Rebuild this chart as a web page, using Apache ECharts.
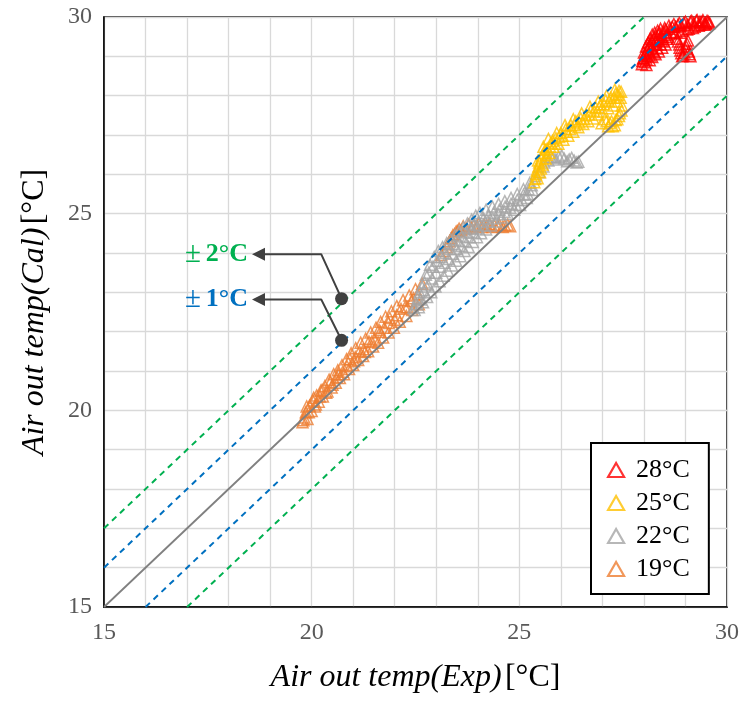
<!DOCTYPE html>
<html>
<head>
<meta charset="utf-8">
<script src="https://cdn.jsdelivr.net/npm/echarts@6/dist/echarts.min.js"></script>
<style>
  html, body { margin: 0; padding: 0; background: #ffffff; }
  #chart { width: 744px; height: 704px; }
</style>
</head>
<body>
<div id="chart"></div>
<script>
// Series names, drawing order and colours
const seriesNames = ['19°C', '22°C', '25°C', '28°C'];
const legendOrder = ['28°C', '25°C', '22°C', '19°C'];
const seriesColors = ['#ED7D31', '#A5A5A5', '#FFC000', '#FF0000'];

// Axis range and labelled ticks
const axisMin = 15;
const axisMax = 30;
const labeledTicks = [15, 20, 25, 30];

// Measured vs calculated air outlet temperature, [Exp, Cal]
const data19 = [
  [19.78,19.70],[19.82,19.82],[19.86,19.95],[19.90,19.78],[19.95,20.12],[20.00,19.98],[20.03,20.25],[20.08,20.10],
  [20.12,20.38],[20.17,20.22],[20.22,20.50],[20.27,20.35],[20.32,20.62],[20.38,20.48],[20.42,20.78],[20.48,20.58],
  [20.53,20.92],[20.58,20.70],[20.63,21.02],[20.68,20.82],[20.73,21.15],[20.78,20.92],[20.84,21.30],[20.90,21.05],
  [20.95,21.45],[21.00,21.15],[21.06,21.58],[21.12,21.28],[21.18,21.72],[21.24,21.38],[21.30,21.82],[21.36,21.50],
  [21.42,21.98],[21.48,21.62],[21.55,22.10],[21.60,21.72],[21.66,22.25],[21.72,21.85],[21.78,22.38],[21.85,21.98],
  [21.92,22.52],[21.98,22.10],[22.05,22.65],[22.12,22.25],[22.20,22.80],[22.28,22.40],[22.35,22.92],[22.42,22.55],
  [22.50,23.08],[22.58,22.70],[22.66,23.22],[23.12,23.95],
  [23.25,24.15],[23.32,24.30],[23.40,24.45],[23.48,24.55],[23.55,24.62],[23.65,24.68],[23.78,24.72],[23.90,24.70],
  [24.02,24.75],[24.15,24.72],[24.28,24.74],[24.40,24.70],[24.52,24.72],[24.65,24.70],[24.78,24.68],
  [19.88,20.10],[20.05,20.32],[20.25,20.52],[20.45,20.72],[20.65,20.92],[20.85,21.12],[21.05,21.35],[21.25,21.55],
  [21.45,21.75],[21.65,22.00],[21.85,22.22],[22.05,22.42],[22.25,22.62],[22.45,22.85],
  [19.80,19.75],[19.93,19.95],[20.10,20.15],[20.20,20.35],[20.35,20.45],[20.50,20.65],[20.60,20.85],[20.75,20.98],
  [20.92,21.30],[21.02,21.25],[21.15,21.50],[21.28,21.48],[21.38,21.75],[21.52,21.80],[21.62,22.05],[21.75,22.10],
  [21.88,22.35],[22.00,22.30],[22.15,22.58],[22.30,22.62],[22.40,22.78],[22.55,22.95],
  [23.20,24.05],[23.28,24.22],[23.36,24.38],[23.44,24.48],[23.52,24.56],
  [23.60,24.58],[23.72,24.62],[23.85,24.65],[23.98,24.68],[24.10,24.66],[24.22,24.70],[24.35,24.66],[24.48,24.68],
  [24.60,24.66],[24.72,24.72]
];

const data22 = [
  [22.45,22.60],[22.55,22.85],[22.65,23.15],[22.75,23.45],[22.85,23.70],[22.95,23.90],[23.05,24.05],[23.15,24.15],
  [23.25,24.25],[23.35,24.35],[23.45,24.45],[23.55,24.55],[23.65,24.65],[23.75,24.75],[23.85,24.85],[23.95,24.95],
  [24.05,25.02],[24.20,25.10],[24.35,25.18],[24.50,25.25],[24.65,25.32],[24.80,25.40],[24.95,25.50],[25.10,25.62],
  [25.25,25.78],[25.38,25.95],
  [22.48,22.55],[22.58,22.62],[22.68,22.75],[22.78,22.88],[22.88,23.00],[22.98,23.15],[23.08,23.28],[23.18,23.42],
  [23.28,23.55],[23.38,23.68],[23.48,23.80],[23.58,23.92],[23.68,24.05],[23.78,24.15],[23.88,24.28],[23.98,24.40],
  [24.08,24.50],[24.20,24.60],[24.32,24.70],[24.45,24.80],[24.58,24.90],[24.72,25.00],[24.88,25.10],[25.02,25.22],
  [25.18,25.40],[25.32,25.60],
  [22.60,23.00],[22.72,23.25],[22.82,23.50],[22.92,23.65],[23.02,23.80],[23.12,23.90],[23.22,24.00],[23.32,24.10],
  [23.42,24.22],[23.52,24.32],[23.62,24.42],[23.72,24.52],[23.82,24.62],[23.92,24.72],[24.02,24.80],[24.14,24.88],
  [24.26,24.95],[24.38,25.02],[24.52,25.10],[24.66,25.18],[24.80,25.25],[24.95,25.35],[25.10,25.48],[25.22,25.62],
  [22.52,22.70],[22.62,22.82],[22.70,23.05],[22.80,23.20],[22.90,23.35],[23.00,23.50],[23.10,23.65],[23.20,23.75],
  [23.30,23.85],[23.40,23.98],[23.50,24.10],[23.60,24.18],[23.70,24.30],[23.80,24.40],[23.90,24.52],[24.00,24.62],
  [24.12,24.70],[24.24,24.80],[24.36,24.88],[24.50,24.98],[24.64,25.05],[24.78,25.15],[24.92,25.22],[25.06,25.35],
  [25.20,25.50],[25.30,25.72],
  [25.48,26.05],[25.58,26.20],[25.70,26.35],[25.82,26.42],[25.95,26.45],[26.08,26.40],[26.20,26.38],[26.32,26.35],
  [26.42,26.32],[25.60,26.30],[25.76,26.45],[25.88,26.38],[26.02,26.48],[26.15,26.33],[26.26,26.42],[26.38,26.30]
];

const data25 = [
  [25.36,25.80],[25.40,26.00],[25.44,25.90],[25.46,26.20],[25.50,26.05],[25.53,26.40],[25.56,26.25],[25.60,26.55],
  [25.63,26.40],[25.67,26.65],[25.72,26.55],[25.76,26.80],[25.82,26.70],[25.88,26.92],[25.94,26.78],[26.00,27.05],
  [26.06,26.88],[26.12,27.15],[26.18,26.98],[26.24,27.25],[26.30,27.08],[26.36,27.35],[26.42,27.20],[26.48,27.42],
  [26.54,27.28],[26.60,27.50],[26.66,27.35],[26.72,27.62],[26.78,27.42],[26.84,27.70],[26.90,27.52],[26.96,27.78],
  [27.02,27.60],[27.08,27.88],[27.14,27.68],[27.20,27.95],[27.26,27.75],[27.32,28.05],[27.36,27.85],[27.40,28.12],
  [27.44,27.95],[27.47,27.75],[27.42,27.55],[27.36,27.40],[27.30,27.25],[27.22,27.35],[27.14,27.22],[27.06,27.40],
  [26.98,27.30],[25.45,26.35],[25.58,26.70],[25.70,26.90],[25.90,27.05],[26.10,27.25],[26.30,27.40],[26.50,27.55],
  [26.70,27.72],[26.90,27.85],[27.10,28.00],[27.30,28.15],
  [25.38,25.88],[25.42,26.10],[25.48,26.30],[25.52,26.15],[25.55,26.48],[25.62,26.62],[25.66,26.50],[25.74,26.70],
  [25.80,26.85],[25.86,26.78],[25.96,26.95],[26.04,26.98],[26.14,27.08],[26.22,27.15],[26.34,27.25],[26.44,27.32],
  [26.56,27.40],[26.68,27.52],[26.80,27.60],[26.92,27.70],[27.04,27.78],[27.16,27.85],[27.28,27.95],[27.38,28.02],
  [27.45,28.10],[27.46,27.62],[27.40,27.48],[27.32,27.38],[27.25,27.22],[27.18,27.30],[27.10,27.35]
];

const data28 = [
  [27.95,28.80],[27.98,28.95],[28.00,29.10],[28.02,28.85],[28.05,29.25],[28.07,29.00],[28.10,29.35],[28.12,29.10],
  [28.15,29.45],[28.18,29.20],[28.20,29.55],[28.23,29.30],[28.26,29.60],[28.30,29.40],[28.33,29.65],[28.37,29.45],
  [28.40,29.70],[28.45,29.50],[28.50,29.72],[28.55,29.55],[28.60,29.78],[28.65,29.60],[28.72,29.82],[28.78,29.62],
  [28.85,29.85],[28.92,29.65],[29.00,29.88],[29.08,29.70],[29.15,29.90],[29.22,29.75],[29.28,29.92],[29.35,29.80],
  [29.42,29.92],[29.48,29.85],[29.55,29.88],
  [28.80,29.45],[28.85,29.30],[28.88,29.15],[28.92,29.00],[28.97,29.10],[29.02,29.25],[29.06,29.40],[29.10,29.05],
  [28.00,28.95],[28.08,29.15],[28.16,29.30],[28.24,29.45],[28.35,29.55],[28.48,29.62],[28.62,29.70],[28.76,29.75],
  [28.90,29.78],[29.05,29.80],[29.20,29.85],[29.35,29.88],[29.50,29.82],
  [27.96,28.88],[28.03,29.05],[28.06,28.92],[28.11,29.25],[28.14,29.02],[28.19,29.40],[28.22,29.15],[28.27,29.50],
  [28.31,29.30],[28.38,29.60],[28.43,29.40],[28.52,29.68],[28.58,29.50],[28.68,29.75],[28.74,29.58],[28.82,29.80],
  [28.88,29.60],[28.96,29.85],[29.04,29.68],[29.12,29.88],[29.18,29.72],[29.26,29.90],[29.32,29.78],[29.40,29.88],
  [29.46,29.80],[29.52,29.90],[29.58,29.85],[28.82,29.38],[28.86,29.22],[28.90,29.08],[28.95,29.02],[29.00,29.18],
  [29.04,29.32],[29.08,29.12],[29.12,29.00],
  [28.25,29.10],[28.32,29.20],[28.40,29.30],[28.48,29.38],[28.55,29.45],[28.20,28.98],[28.28,29.05],[28.36,29.12],
  [28.44,29.22],[28.52,29.30],[28.14,28.90],[28.06,28.78]
];

// Reference lines: Cal = Exp, ±1 °C and ±2 °C
const identityLine = [[15, 15], [30, 30]];
const plus1Line = [[15, 16], [29, 30]];
const minus1Line = [[16, 15], [30, 29]];
const plus2Line = [[15, 17], [28, 30]];
const minus2Line = [[17, 15], [30, 28]];

// Callouts: marker dot, elbow, arrow head
const callout2 = [[20.72, 22.84], [20.23, 23.97], [18.72, 23.97]];
const callout1 = [[20.72, 21.78], [20.23, 22.82], [18.72, 22.82]];
const calloutTexts = ['2°C', '1°C'];
const calloutColors = ['#00B050', '#0070C0'];

const serif = '"Liberation Serif", "Times New Roman", serif';

function scatterSeries(name, data, color) {
  return {
    name: name,
    type: 'scatter',
    data: data,
    symbol: 'triangle',
    symbolSize: 11,
    itemStyle: { color: 'rgba(0,0,0,0)', borderColor: color, borderWidth: 1.5 },
    silent: true
  };
}

function refSeries(data, color, dashed, width) {
  return {
    type: 'line',
    data: data,
    symbol: 'none',
    silent: true,
    lineStyle: { color: color, width: width, type: dashed ? [6, 5] : 'solid' },
    z: 5
  };
}

function calloutSeries(points, text, color) {
  return {
    type: 'line',
    silent: true,
    z: 6,
    lineStyle: { color: '#404040', width: 2 },
    itemStyle: { color: '#404040' },
    data: [
      { value: points[0], symbol: 'circle', symbolSize: 13 },
      { value: points[1], symbol: 'none' },
      {
        value: points[2], symbol: 'triangle', symbolSize: 13, symbolRotate: 90,
        label: {
          show: true, position: 'left', distance: 4,
          formatter: '{pm|±}{v|' + text + '}',
          rich: {
            pm: { fontFamily: serif, fontSize: 29, color: color, padding: [0, 5, 0, 0] },
            v: { fontFamily: serif, fontSize: 26, fontWeight: 'bold', color: color }
          }
        }
      }
    ]
  };
}

const chart = echarts.init(document.getElementById('chart'), null, { renderer: 'canvas' });

const axisCommon = {
  type: 'value',
  min: axisMin,
  max: axisMax,
  interval: 1,
  nameLocation: 'middle',
  axisLine: { show: true, onZero: false, lineStyle: { color: '#000000', width: 1.5 } },
  axisTick: { show: false },
  splitLine: { show: true, lineStyle: { color: '#D9D9D9', width: 1.3 } },
  axisLabel: {
    color: '#595959',
    fontFamily: serif,
    fontSize: 24,
    formatter: v => (labeledTicks.includes(v) ? String(v) : '')
  },
  nameTextStyle: {
    rich: {
      i: { fontFamily: serif, fontSize: 32, fontStyle: 'italic', color: '#000000' },
      n: { fontFamily: serif, fontSize: 32, color: '#000000' }
    }
  }
};

chart.setOption({
  animation: false,
  backgroundColor: '#ffffff',
  grid: {
    left: 104, right: 17, top: 17, bottom: 97,
    show: true, borderColor: '#000000', borderWidth: 1.5, backgroundColor: '#ffffff'
  },
  xAxis: Object.assign({}, axisCommon, {
    name: '{i|Air out temp(Exp)} {n|[°C]}',
    nameGap: 55,
    axisLabel: Object.assign({}, axisCommon.axisLabel, { margin: 14 })
  }),
  yAxis: Object.assign({}, axisCommon, {
    name: '{i|Air out temp(Cal)} {n|[°C]}',
    nameGap: 53,
    axisLabel: Object.assign({}, axisCommon.axisLabel, { margin: 12 })
  }),
  legend: {
    data: legendOrder,
    orient: 'vertical',
    left: 591,
    top: 443,
    padding: [14, 19, 12, 16],
    itemGap: 7,
    itemWidth: 16,
    itemHeight: 14,
    backgroundColor: '#ffffff',
    borderColor: '#000000',
    borderWidth: 2,
    borderRadius: 0,
    itemStyle: { borderWidth: 2.2 },
    textStyle: { fontFamily: serif, fontSize: 26, color: '#000000', padding: [0, 0, 0, 7] }
  },
  series: [
    scatterSeries(seriesNames[0], data19, seriesColors[0]),
    scatterSeries(seriesNames[1], data22, seriesColors[1]),
    scatterSeries(seriesNames[2], data25, seriesColors[2]),
    scatterSeries(seriesNames[3], data28, seriesColors[3]),
    refSeries(identityLine, '#808080', false, 1.8),
    refSeries(plus1Line, '#0070C0', true, 2),
    refSeries(minus1Line, '#0070C0', true, 2),
    refSeries(plus2Line, '#00B050', true, 2),
    refSeries(minus2Line, '#00B050', true, 2),
    calloutSeries(callout2, calloutTexts[0], calloutColors[0]),
    calloutSeries(callout1, calloutTexts[1], calloutColors[1])
  ]
});
</script>
</body>
</html>
